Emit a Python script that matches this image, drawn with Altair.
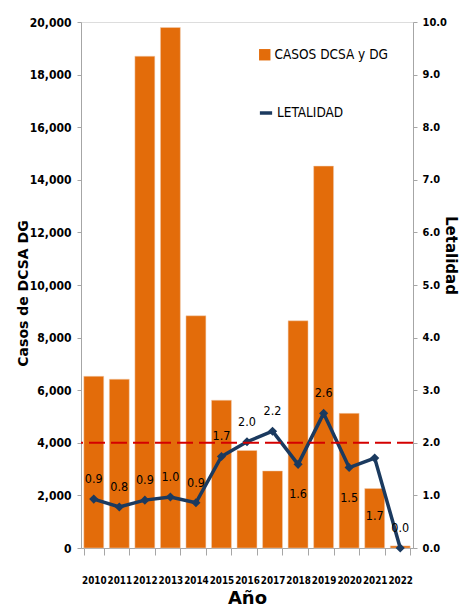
import altair as alt
import pandas as pd

years = ["2010", "2011", "2012", "2013", "2014", "2015", "2016",
         "2017", "2018", "2019", "2020", "2021", "2022"]
casos = [6530, 6420, 18700, 19790, 8830, 5620, 3710, 2930, 8640, 14520, 5120, 2260, 80]
letalidad = [0.93, 0.78, 0.91, 0.97, 0.86, 1.74, 2.02, 2.22, 1.59, 2.56, 1.53, 1.71, 0.0]
labels_below = ["2018", "2020"]
labels_far_below = ["2021"]
umbral = 2.0

serie_bar = "CASOS DCSA y DG"
serie_line = "LETALIDAD"

df = pd.DataFrame({"year": years, "casos": casos, "letalidad": letalidad})
df["serie_bar"] = serie_bar
df["serie_line"] = serie_line
df_rule = pd.DataFrame({"letalidad": [umbral]})

NARROW = "DejaVu Sans Condensed, Liberation Sans"
ORANGE = "#E36C0A"
NAVY = "#1B3A5F"

x_enc = alt.X("year:N", sort=years,
              scale=alt.Scale(paddingInner=0.22, paddingOuter=0.11),
              axis=alt.Axis(title="Año", labelAngle=0, labelFont=NARROW, labelFontSize=9.8,
                            labelFontWeight="bold", labelColor="black", labelPadding=20,
                            tickBand="extent", tickSize=7, tickColor="#a6a6a6",
                            domainColor="#a6a6a6", titleFont="DejaVu Sans", titleFontSize=18,
                            titleFontWeight="bold", titleColor="black", titleY=50,
                            titleBaseline="middle", titleAlign="center"))

bars = alt.Chart(df).mark_bar(stroke="#f0d0b8", strokeWidth=0.5).encode(
    x=x_enc,
    y=alt.Y("casos:Q", scale=alt.Scale(domain=[0, 20000], nice=False),
            axis=alt.Axis(title="Casos de DCSA  DG", values=list(range(0, 20001, 2000)),
                          format=",.0f", grid=False, labelFont=NARROW, labelFontSize=12,
                          labelFontWeight="bold", labelColor="black", labelPadding=6,
                          tickSize=4, tickColor="#a6a6a6", domainColor="#a6a6a6",
                          titleFont="DejaVu Sans", titleFontSize=14, titleFontWeight="bold",
                          titleColor="black", titleX=-58, titleY=271, titleAngle=270,
                          titleAlign="center", titleBaseline="middle")),
    fill=alt.Fill("serie_bar:N", scale=alt.Scale(domain=[serie_bar], range=[ORANGE]),
                  legend=alt.Legend(title=None, orient="none", legendX=177, legendY=26,
                                    symbolType="square", symbolSize=130, symbolStrokeWidth=0,
                                    labelFont=NARROW, labelFontSize=13.5, labelColor="black",
                                    labelOffset=3)),
)

right_axis = alt.Axis(orient="right", title="Letalidad", values=list(range(0, 11)),
                      format=".1f", grid=False, labelFont=NARROW, labelFontSize=11,
                      labelFontWeight="bold", labelColor="black", labelPadding=5,
                      tickSize=4, tickColor="#a6a6a6", domainColor="#a6a6a6",
                      titleFont="DejaVu Sans", titleFontSize=15, titleFontWeight="bold",
                      titleColor="black", titleX=37, titleY=233, titleAngle=90,
                      titleAlign="center", titleBaseline="middle")
y_right = alt.Y("letalidad:Q", scale=alt.Scale(domain=[0, 10], nice=False), axis=right_axis)

line = alt.Chart(df).mark_line(strokeWidth=3.5, point=alt.OverlayMarkDef(
    shape="diamond", size=40, filled=True, color=NAVY)).encode(
    x=alt.X("year:N", sort=years),
    y=y_right,
    stroke=alt.Stroke("serie_line:N", scale=alt.Scale(domain=[serie_line], range=[NAVY]),
                      legend=alt.Legend(title=None, orient="none", legendX=177, legendY=83,
                                        symbolType="stroke", symbolSize=150,
                                        symbolStrokeWidth=3.5, labelFont=NARROW,
                                        labelFontSize=13.5, labelColor="black", labelOffset=3)),
)

text_base = alt.Chart(df).encode(
    x=alt.X("year:N", sort=years),
    y=y_right,
    text=alt.Text("letalidad:Q", format=".1f"),
)
below_all = labels_below + labels_far_below
txt_above = text_base.transform_filter(
    "indexof(" + str(below_all).replace("'", '"') + ", datum.year) < 0"
).mark_text(font=NARROW, fontSize=12.5, color="black", dy=-20)
txt_below = text_base.transform_filter(
    alt.FieldOneOfPredicate(field="year", oneOf=labels_below)
).mark_text(font=NARROW, fontSize=12.5, color="black", dy=30)
txt_far = text_base.transform_filter(
    alt.FieldOneOfPredicate(field="year", oneOf=labels_far_below)
).mark_text(font=NARROW, fontSize=12.5, color="black", dy=58)

rule = alt.Chart(df_rule).mark_rule(color="#D40000", strokeWidth=2, strokeDash=[16, 6]).encode(
    y=y_right,
)

right_layer = alt.layer(line, rule, txt_above, txt_below, txt_far)

chart = alt.layer(bars, right_layer).resolve_scale(y="independent").properties(
    width=332, height=526,
    autosize=alt.AutoSizeParams(type="none"),
    padding={"left": 73, "top": 14, "right": 46, "bottom": 59},
).configure_view(stroke=None).configure(background="white")

chart.save("out.html", embed_options={"renderer": "svg", "actions": False})
